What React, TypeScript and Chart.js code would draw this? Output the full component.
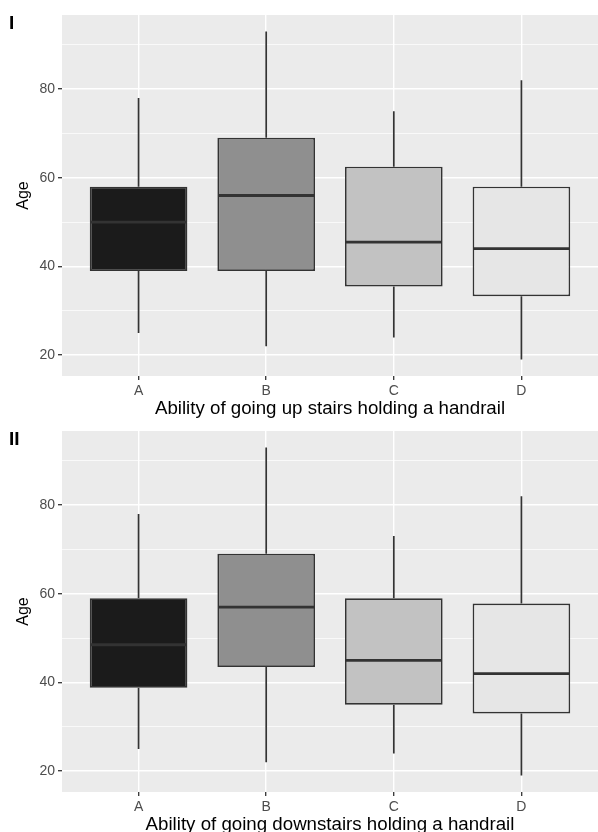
import { useEffect, useRef } from "react";
import { Chart, registerables } from "chart.js";

Chart.register(...registerables);

// ---- data ----
const categories = ["A", "B", "C", "D"];

const upMin = [25, 22, 24, 19];
const upQ1 = [39, 39, 35.5, 33.3];
const upMedian = [50, 56, 45.5, 44];
const upQ3 = [58, 69, 62.5, 58];
const upMax = [78, 93, 75, 82];

const downMin = [25, 22, 24, 19];
const downQ1 = [38.8, 43.5, 35, 33];
const downMedian = [48.5, 57, 45, 42];
const downQ3 = [59, 69, 59, 57.8];
const downMax = [78, 93, 73, 82];

const fillColors = ["#1B1B1B", "#8F8F8F", "#C2C2C2", "#E6E6E6"];
const yMajorTicks = [20, 40, 60, 80];
const yMinorTicks = [30, 50, 70, 90];
const yRange = [15.3, 96.7];
const xRange = [0.4, 4.6];

const FONT = "'Liberation Sans', Arial, Helvetica, sans-serif";

type Stats = {
  min: number[];
  q1: number[];
  median: number[];
  q3: number[];
  max: number[];
};

function makePlugins(stats: Stats, label: string) {
  return [
    {
      id: "panelBg",
      beforeDraw(chart: any) {
        const { ctx, chartArea } = chart;
        ctx.save();
        ctx.fillStyle = "#EBEBEB";
        ctx.fillRect(
          chartArea.left,
          chartArea.top,
          chartArea.right - chartArea.left,
          chartArea.bottom - chartArea.top
        );
        ctx.restore();
      },
    },
    {
      id: "whiskers",
      beforeDatasetsDraw(chart: any) {
        const { ctx } = chart;
        const x = chart.scales.x;
        const y = chart.scales.y;
        ctx.save();
        ctx.strokeStyle = "#333333";
        ctx.lineWidth = 1.7;
        stats.min.forEach((_, i) => {
          const cx = x.getPixelForValue(i + 1);
          ctx.beginPath();
          ctx.moveTo(cx, y.getPixelForValue(stats.q3[i]));
          ctx.lineTo(cx, y.getPixelForValue(stats.max[i]));
          ctx.moveTo(cx, y.getPixelForValue(stats.q1[i]));
          ctx.lineTo(cx, y.getPixelForValue(stats.min[i]));
          ctx.stroke();
        });
        ctx.restore();
      },
    },
    {
      id: "medians",
      afterDatasetsDraw(chart: any) {
        const { ctx } = chart;
        const x = chart.scales.x;
        const y = chart.scales.y;
        const meta = chart.getDatasetMeta(0);
        ctx.save();
        ctx.strokeStyle = "#333333";
        ctx.lineWidth = 2.8;
        stats.median.forEach((m, i) => {
          const cx = x.getPixelForValue(i + 1);
          const half = meta.data[i].width / 2;
          const my = y.getPixelForValue(m);
          ctx.beginPath();
          ctx.moveTo(cx - half + 0.8, my);
          ctx.lineTo(cx + half - 0.8, my);
          ctx.stroke();
        });
        ctx.restore();
      },
    },
    {
      id: "panelLabel",
      afterDraw(chart: any) {
        const { ctx } = chart;
        ctx.save();
        ctx.fillStyle = "#000000";
        ctx.font = `bold 19px ${FONT}`;
        ctx.textBaseline = "top";
        ctx.textAlign = "left";
        ctx.fillText(label, 9, 14);
        ctx.restore();
      },
    },
  ];
}

function BoxChart({
  stats,
  xTitle,
  label,
  top,
}: {
  stats: Stats;
  xTitle: string;
  label: string;
  top: number;
}) {
  const ref = useRef<HTMLCanvasElement>(null);
  useEffect(() => {
    if (!ref.current) return;
    const chart = new Chart(ref.current, {
      type: "bar",
      data: {
        datasets: [
          {
            data: categories.map((_, i) => ({
              x: i + 1,
              y: [stats.q1[i], stats.q3[i]],
            })) as any,
            backgroundColor: fillColors,
            borderColor: "#333333",
            borderWidth: 1.7,
            borderSkipped: false,
            barPercentage: 0.765,
            categoryPercentage: 1,
          },
        ],
      },
      options: {
        responsive: false,
        animation: false,
        devicePixelRatio: 1,
        layout: { padding: { top: 15, left: 0, right: 0, bottom: 0 } },
        plugins: {
          legend: { display: false },
          tooltip: { enabled: false },
        },
        scales: {
          x: {
            type: "linear",
            min: xRange[0],
            max: xRange[1],
            offset: false,
            afterBuildTicks(scale: any) {
              scale.ticks = categories.map((_, i) => ({ value: i + 1 }));
            },
            afterFit(scale: any) {
              scale.height = 48;
            },
            ticks: {
              autoSkip: false,
              padding: 3,
              color: "#4D4D4D",
              font: { family: FONT, size: 14 },
              callback: (v: any) => categories[Number(v) - 1] ?? "",
            },
            grid: {
              offset: false,
              color: "#FFFFFF",
              lineWidth: 1.4,
              drawTicks: true,
              tickLength: 4,
              tickColor: "#333333",
              tickWidth: 1.3,
            },
            border: { display: false },
            title: {
              display: true,
              text: xTitle,
              color: "#000000",
              font: { family: FONT, size: 18.7 },
              padding: { top: 0, bottom: 3.5 },
            },
          },
          y: {
            type: "linear",
            min: yRange[0],
            max: yRange[1],
            afterBuildTicks(scale: any) {
              scale.ticks = [...yMajorTicks, ...yMinorTicks]
                .sort((a, b) => a - b)
                .map((v) => ({ value: v }));
            },
            afterFit(scale: any) {
              scale.width = 62;
            },
            ticks: {
              padding: 3,
              color: "#4D4D4D",
              font: { family: FONT, size: 14 },
              callback: (v: any) =>
                yMajorTicks.includes(Number(v)) ? String(v) : "",
            },
            grid: {
              color: "#FFFFFF",
              lineWidth: (c: any) =>
                yMajorTicks.includes(c.tick?.value) ? 1.4 : 0.7,
              drawTicks: true,
              tickLength: 4,
              tickColor: (c: any) =>
                yMajorTicks.includes(c.tick?.value)
                  ? "#333333"
                  : "rgba(0,0,0,0)",
              tickWidth: 1.3,
            },
            border: { display: false },
            title: {
              display: true,
              text: "Age",
              color: "#000000",
              font: { family: FONT, size: 16 },
              padding: { top: 14, bottom: 0 },
            },
          },
        },
      } as any,
      plugins: makePlugins(stats, label) as any,
    });
    return () => chart.destroy();
  }, []);
  return (
    <canvas
      ref={ref}
      width={598}
      height={424}
      style={{
        position: "absolute",
        left: 0,
        top,
        width: 598,
        height: 424,
        display: "block",
      }}
    />
  );
}

export default function App() {
  const upStats: Stats = {
    min: upMin,
    q1: upQ1,
    median: upMedian,
    q3: upQ3,
    max: upMax,
  };
  const downStats: Stats = {
    min: downMin,
    q1: downQ1,
    median: downMedian,
    q3: downQ3,
    max: downMax,
  };
  return (
    <div
      style={{
        position: "absolute",
        left: 0,
        top: 0,
        width: 598,
        height: 832,
        overflow: "hidden",
        background: "#FFFFFF",
      }}
    >
      <BoxChart
        stats={upStats}
        xTitle="Ability of going up stairs holding a handrail"
        label="I"
        top={0}
      />
      <BoxChart
        stats={downStats}
        xTitle="Ability of going downstairs holding a handrail"
        label="II"
        top={416}
      />
    </div>
  );
}
